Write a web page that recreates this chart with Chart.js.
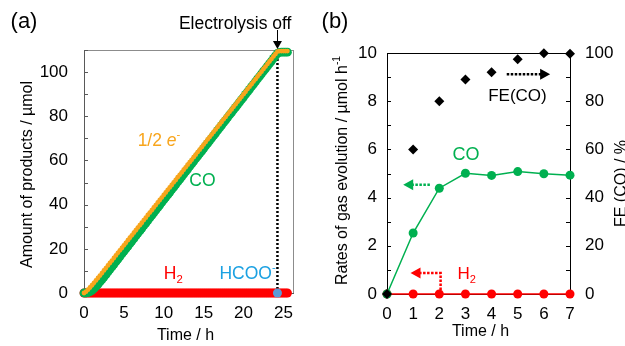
<!DOCTYPE html>
<html>
<head>
<meta charset="utf-8">
<script src="https://cdn.jsdelivr.net/npm/chart.js@4.4.1/dist/chart.umd.min.js"></script>
<style>
  html, body { margin: 0; padding: 0; background: #fff; }
  #wrap { position: relative; width: 625px; height: 346px; }
  canvas { position: absolute; top: 0; }
  #chartA { left: 0; }
  #chartB { left: 310px; }
</style>
</head>
<body>
<div id="wrap">
  <canvas id="chartA" width="310" height="346"></canvas>
  <canvas id="chartB" width="315" height="346"></canvas>
</div>
<script>
// ---- panel (a): amount of products, read every 15 min ----
const timeA = [
  0, 0.25, 0.5, 0.75, 1, 1.25, 1.5, 1.75,
  2, 2.25, 2.5, 2.75, 3, 3.25, 3.5, 3.75,
  4, 4.25, 4.5, 4.75, 5, 5.25, 5.5, 5.75,
  6, 6.25, 6.5, 6.75, 7, 7.25, 7.5, 7.75,
  8, 8.25, 8.5, 8.75, 9, 9.25, 9.5, 9.75,
  10, 10.25, 10.5, 10.75, 11, 11.25, 11.5, 11.75,
  12, 12.25, 12.5, 12.75, 13, 13.25, 13.5, 13.75,
  14, 14.25, 14.5, 14.75, 15, 15.25, 15.5, 15.75,
  16, 16.25, 16.5, 16.75, 17, 17.25, 17.5, 17.75,
  18, 18.25, 18.5, 18.75, 19, 19.25, 19.5, 19.75,
  20, 20.25, 20.5, 20.75, 21, 21.25, 21.5, 21.75,
  22, 22.25, 22.5, 22.75, 23, 23.25, 23.5, 23.75,
  24, 24.25, 24.5, 24.75, 25, 25.25, 25.5
];
// 1/2 e-
const halfE = [
  0, 0.6, 1.5, 2.5, 3.5, 4.6, 5.7, 6.8,
  7.9, 9.0, 10.2, 11.3, 12.5, 13.6, 14.7, 15.9,
  17.0, 18.2, 19.3, 20.4, 21.6, 22.7, 23.9, 25.0,
  26.1, 27.3, 28.4, 29.6, 30.7, 31.8, 33.0, 34.1,
  35.3, 36.4, 37.5, 38.7, 39.8, 41.0, 42.1, 43.2,
  44.4, 45.5, 46.7, 47.8, 48.9, 50.1, 51.2, 52.4,
  53.5, 54.6, 55.8, 56.9, 58.1, 59.2, 60.3, 61.5,
  62.6, 63.8, 64.9, 66.0, 67.2, 68.3, 69.5, 70.6,
  71.7, 72.9, 74.0, 75.2, 76.3, 77.4, 78.6, 79.7,
  80.9, 82.0, 83.1, 84.3, 85.4, 86.6, 87.7, 88.8,
  90.0, 91.1, 92.3, 93.4, 94.5, 95.7, 96.8, 98.0,
  99.1, 100.2, 101.4, 102.5, 103.7, 104.8, 105.9, 107.1,
  108.2, 109.3, 109.5, 109.5, 109.5, 109.5, 109.5
];
const coA = [
  0, 0, 0.2, 0.6, 1.2, 2.0, 2.9, 3.9,
  5.0, 6.1, 7.2, 8.3, 9.5, 10.7, 11.8, 13.0,
  14.2, 15.3, 16.5, 17.7, 18.8, 20.0, 21.1, 22.3,
  23.5, 24.6, 25.8, 27.0, 28.1, 29.3, 30.5, 31.6,
  32.8, 34.0, 35.1, 36.3, 37.5, 38.6, 39.8, 41.0,
  42.1, 43.3, 44.4, 45.6, 46.8, 47.9, 49.1, 50.3,
  51.4, 52.6, 53.8, 54.9, 56.1, 57.3, 58.4, 59.6,
  60.8, 61.9, 63.1, 64.2, 65.4, 66.6, 67.7, 68.9,
  70.1, 71.2, 72.4, 73.6, 74.7, 75.9, 77.1, 78.2,
  79.4, 80.6, 81.7, 82.9, 84.0, 85.2, 86.4, 87.5,
  88.7, 89.9, 91.0, 92.2, 93.4, 94.5, 95.7, 96.9,
  98.0, 99.2, 100.4, 101.5, 102.7, 103.8, 105.0, 106.2,
  107.3, 108.5, 108.9, 109.0, 109.0, 109.0, 109.0
];
const h2A = [
  0, 0, 0, 0, 0, 0, 0, 0,  0, 0, 0, 0, 0, 0, 0, 0,
  0, 0, 0, 0, 0, 0, 0, 0,  0, 0, 0, 0, 0, 0, 0, 0,
  0, 0, 0, 0, 0, 0, 0, 0,  0, 0, 0, 0, 0, 0, 0, 0,
  0, 0, 0, 0, 0, 0, 0, 0,  0, 0, 0, 0, 0, 0, 0, 0,
  0, 0, 0, 0, 0, 0, 0, 0,  0, 0, 0, 0, 0, 0, 0, 0,
  0, 0, 0, 0, 0, 0, 0, 0,  0, 0, 0, 0, 0, 0, 0, 0,
  0, 0, 0, 0, 0, 0, 0
];
const hcooT = [24.25];
const hcooA = [0];
const offTime = 24.25;     // electrolysis off
const offLineTop = 108;
const xTicksA = [0, 5, 10, 15, 20, 25];
const yTicksA = [0, 10, 20, 30, 40, 50, 60, 70, 80, 90, 100, 110];

// ---- panel (b): rates and faradaic efficiency ----
const timeB = [0, 1, 2, 3, 4, 5, 6, 7];
const coRate = [0, 2.53, 4.39, 5.01, 4.92, 5.08, 4.99, 4.93];
const h2Rate = [0, 0, 0, 0, 0, 0, 0, 0];
const feCO = [0, 60, 80, 89, 92, 97.4, 99.9, 99.7];

const FONT = "'Liberation Sans', Arial, sans-serif";
const GREEN = '#00B050', ORANGE = '#F8A51C', RED = '#FF0000';
Chart.defaults.font.family = FONT;
Chart.defaults.color = '#000';

const pts = (xs, ys) => xs.map((x, i) => ({ x: x, y: ys[i] }));

// text with sub/superscripts, centred on (x, y)
function richText(ctx, x, y, segs, opt) {
  opt = opt || {};
  const size = opt.size || 17;
  ctx.save();
  ctx.translate(x, y);
  if (opt.rotate) ctx.rotate(opt.rotate);
  ctx.textBaseline = 'middle';
  ctx.textAlign = 'left';
  const parts = segs.map(s => {
    const fs = (s.sub || s.sup) ? size * 0.65 : size;
    const font = (s.italic ? 'italic ' : '') + fs + 'px ' + FONT;
    ctx.font = font;
    return { s: s, font: font, w: ctx.measureText(s.t).width,
             dy: s.sub ? size * 0.3 : (s.sup ? -size * 0.35 : 0) };
  });
  const total = parts.reduce((a, p) => a + p.w, 0);
  let cx = opt.align === 'left' ? 0 : (opt.align === 'right' ? -total : -total / 2);
  parts.forEach(p => {
    ctx.font = p.font;
    ctx.fillStyle = p.s.color || opt.color || '#000';
    ctx.fillText(p.s.t, cx, p.dy);
    cx += p.w;
  });
  ctx.restore();
}

function innerTicks(chart, id, len, color) {
  const s = chart.scales[id], a = chart.chartArea, ctx = chart.ctx;
  ctx.save();
  ctx.strokeStyle = color;
  ctx.lineWidth = 1;
  ctx.beginPath();
  s.ticks.forEach(t => {
    const p = Math.round(s.getPixelForValue(t.value)) + 0.5;
    if (s.axis === 'x') { ctx.moveTo(p, a.bottom); ctx.lineTo(p, a.bottom - len); }
    else if (s.position === 'left') { ctx.moveTo(a.left, p); ctx.lineTo(a.left + len, p); }
    else { ctx.moveTo(a.right, p); ctx.lineTo(a.right - len, p); }
  });
  ctx.stroke();
  ctx.restore();
}

function dotted(ctx, path, color, width, dash) {
  ctx.save();
  ctx.strokeStyle = color;
  ctx.lineWidth = width;
  ctx.setLineDash(dash);
  ctx.beginPath();
  path.forEach((p, i) => i ? ctx.lineTo(p[0], p[1]) : ctx.moveTo(p[0], p[1]));
  ctx.stroke();
  ctx.restore();
}

// filled triangle, tip at (x, y), pointing along dir ('left','right','down')
function head(ctx, x, y, dir, color, len, half) {
  ctx.save();
  ctx.fillStyle = color;
  ctx.beginPath();
  ctx.moveTo(x, y);
  if (dir === 'left') { ctx.lineTo(x + len, y - half); ctx.lineTo(x + len, y + half); }
  if (dir === 'right') { ctx.lineTo(x - len, y - half); ctx.lineTo(x - len, y + half); }
  if (dir === 'down') { ctx.lineTo(x - half, y - len); ctx.lineTo(x + half, y - len); }
  ctx.closePath();
  ctx.fill();
  ctx.restore();
}

function hLine(ctx, x1, x2, y, color) {
  ctx.save(); ctx.strokeStyle = color; ctx.lineWidth = 1;
  ctx.beginPath(); ctx.moveTo(x1, Math.round(y) + 0.5); ctx.lineTo(x2, Math.round(y) + 0.5); ctx.stroke();
  ctx.restore();
}
function vLine(ctx, x, y1, y2, color) {
  ctx.save(); ctx.strokeStyle = color; ctx.lineWidth = 1;
  ctx.beginPath(); ctx.moveTo(Math.round(x) + 0.5, y1); ctx.lineTo(Math.round(x) + 0.5, y2); ctx.stroke();
  ctx.restore();
}

// ---------------- chart (a) ----------------
const decorA = {
  id: 'decorA',
  beforeDatasetsDraw(chart) {
    const ctx = chart.ctx, a = chart.chartArea, x = chart.scales.x, y = chart.scales.y;
    hLine(ctx, a.left, a.right, a.top, '#8c8c8c');
    vLine(ctx, a.right, a.top, a.bottom, '#8c8c8c');
    innerTicks(chart, 'y', 4, '#595959');
    innerTicks(chart, 'x', 4, '#595959');
    const px = x.getPixelForValue(offTime);
    dotted(ctx, [[px, y.getPixelForValue(0)], [px, y.getPixelForValue(offLineTop)]], '#000', 2.5, [2, 2]);
  },
  afterDraw(chart) {
    const ctx = chart.ctx, a = chart.chartArea, x = chart.scales.x, y = chart.scales.y;
    const X = v => x.getPixelForValue(v), Y = v => y.getPixelForValue(v);
    const cy = (a.top + a.bottom) / 2;
    richText(ctx, 24, 22, [{ t: '(a)' }], { size: 22 });
    richText(ctx, a.left - 56, cy + 3, [{ t: 'Amount of products / µmol' }], { size: 16, rotate: -Math.PI / 2 });
    richText(ctx, (a.left + a.right) / 2 - 3, a.bottom + 43, [{ t: 'Time / h' }], { size: 16 });

    // electrolysis off marker
    const px = X(offTime);
    richText(ctx, px + 14, 24, [{ t: 'Electrolysis off' }], { size: 17.5, align: 'right' });
    vLine(ctx, px - 0.5, 30, a.top - 6, '#000');
    head(ctx, px, a.top - 1, 'down', '#000', 8, 4.5);

    richText(ctx, X(9.4), Y(68.6), [{ t: '1/2 ' }, { t: 'e', italic: true }, { t: '-', sup: true }], { color: ORANGE, size: 17.5 });
    richText(ctx, X(14.85), Y(50.8), [{ t: 'CO' }], { color: GREEN, size: 17.5 });
    richText(ctx, X(11.2), Y(8.5), [{ t: 'H' }, { t: '2', sub: true }], { color: RED, size: 17.5 });
    richText(ctx, X(20.5), Y(8.7), [{ t: 'HCOO' }, { t: '-', sup: true }], { color: '#1BA1E2', size: 17.5 });
  }
};

new Chart(document.getElementById('chartA'), {
  type: 'scatter',
  data: {
    datasets: [
      { label: 'HCOO-', data: pts(hcooT, hcooA), pointRadius: 4.5, backgroundColor: '#5B9BD5', borderWidth: 0, clip: false },
      { label: '1/2 e-', data: pts(timeA, halfE), pointRadius: 2.4, backgroundColor: ORANGE, borderWidth: 0, clip: false },
      { label: 'CO', data: pts(timeA, coA), pointRadius: 4.4, backgroundColor: GREEN, borderWidth: 0, clip: false },
      { label: 'H2', data: pts(timeA, h2A), pointRadius: 4.5, backgroundColor: RED, borderWidth: 0, clip: false }
    ]
  },
  options: {
    responsive: false,
    animation: false,
    layout: { padding: { top: 50, right: 17, left: 0, bottom: 0 } },
    plugins: { legend: { display: false }, tooltip: { enabled: false } },
    scales: {
      x: {
        type: 'linear', min: 0, max: 26.2,
        grid: { display: false, drawTicks: false },
        border: { display: true, color: '#595959' },
        ticks: { autoSkip: false, padding: 10, font: { size: 17 } },
        afterBuildTicks: s => { s.ticks = xTicksA.map(v => ({ value: v })); },
        afterFit: s => { s.height = 53; }
      },
      y: {
        min: 0, max: 110,
        grid: { display: false, drawTicks: false },
        border: { display: true, color: '#595959' },
        ticks: { autoSkip: false, padding: 16, font: { size: 17 }, callback: v => v % 20 === 0 ? v : '' },
        afterBuildTicks: s => { s.ticks = yTicksA.map(v => ({ value: v })); },
        afterFit: s => { s.width = 84; }
      }
    }
  },
  plugins: [decorA]
});

// ---------------- chart (b) ----------------
const decorB = {
  id: 'decorB',
  beforeDatasetsDraw(chart) {
    const ctx = chart.ctx, a = chart.chartArea;
    hLine(ctx, a.left, a.right, a.top, '#000');
    innerTicks(chart, 'y', 4, '#000');
    innerTicks(chart, 'y1', 4, '#000');
    innerTicks(chart, 'x', 4, '#000');
  },
  afterDraw(chart) {
    const ctx = chart.ctx, a = chart.chartArea, x = chart.scales.x, y = chart.scales.y;
    const X = v => x.getPixelForValue(v), Y = v => y.getPixelForValue(v);
    const cy = (a.top + a.bottom) / 2;
    richText(ctx, 25, 22, [{ t: '(b)' }], { size: 22 });
    richText(ctx, a.left - 44, cy - 3, [{ t: 'Rates of gas evolution / µmol h' }, { t: '-1', sup: true }], { size: 16, rotate: -Math.PI / 2 });
    richText(ctx, a.right + 52, cy + 10, [{ t: 'FE (CO) / %' }], { size: 16, rotate: -Math.PI / 2 });
    richText(ctx, (a.left + a.right) / 2 + 2, a.bottom + 38, [{ t: 'Time / h' }], { size: 16 });

    richText(ctx, X(3.02), Y(5.77), [{ t: 'CO' }], { color: GREEN, size: 18 });
    richText(ctx, X(3.05), Y(0.8), [{ t: 'H' }, { t: '2', sub: true }], { color: RED, size: 17 });
    richText(ctx, X(4.99), Y(8.2), [{ t: 'FE(CO)' }], { size: 17 });

    // arrows pointing to the axes
    dotted(ctx, [[X(1.64), Y(4.53)], [X(0.62) + 9, Y(4.53)]], GREEN, 2.5, [2.5, 1.5]);
    head(ctx, X(0.62), Y(4.53), 'left', GREEN, 10, 5.5);
    dotted(ctx, [[X(2.05), Y(0)], [X(2.05), Y(0.87)], [X(0.9) + 9, Y(0.87)]], RED, 2.5, [2.5, 1.5]);
    head(ctx, X(0.9), Y(0.87), 'left', RED, 10, 5.5);
    dotted(ctx, [[X(4.58), Y(9.12)], [X(6.24) - 9, Y(9.12)]], '#000', 2.5, [2.5, 1.5]);
    head(ctx, X(6.24), Y(9.12), 'right', '#000', 10, 5.5);
  }
};

new Chart(document.getElementById('chartB'), {
  type: 'scatter',
  data: {
    datasets: [
      { label: 'FE(CO)', data: pts(timeB, feCO), yAxisID: 'y1', pointStyle: 'rectRot', pointRadius: 5,
        backgroundColor: '#000', borderWidth: 0, showLine: false, clip: false },
      { label: 'CO', data: pts(timeB, coRate), yAxisID: 'y', pointRadius: 4.5, backgroundColor: GREEN,
        borderColor: GREEN, borderWidth: 1.5, pointBorderWidth: 0, showLine: true, clip: false },
      { label: 'H2', data: pts(timeB, h2Rate), yAxisID: 'y', pointRadius: 4.5, backgroundColor: RED,
        borderColor: RED, borderWidth: 1.5, pointBorderWidth: 0, showLine: true, clip: false }
    ]
  },
  options: {
    responsive: false,
    animation: false,
    layout: { padding: { top: 53, right: 0, left: 0, bottom: 0 } },
    plugins: { legend: { display: false }, tooltip: { enabled: false } },
    scales: {
      x: {
        type: 'linear', min: 0, max: 7,
        grid: { display: false, drawTicks: false },
        border: { display: true, color: '#000' },
        ticks: { stepSize: 1, padding: 10, font: { size: 17 } },
        afterFit: s => { s.height = 52; }
      },
      y: {
        position: 'left', min: 0, max: 10,
        grid: { display: false, drawTicks: false },
        border: { display: true, color: '#000' },
        ticks: { stepSize: 1, padding: 10, font: { size: 17 }, callback: v => v % 2 === 0 ? v : '' },
        afterFit: s => { s.width = 77; }
      },
      y1: {
        position: 'right', min: 0, max: 100,
        grid: { display: false, drawTicks: false },
        border: { display: true, color: '#000' },
        ticks: { stepSize: 10, padding: 15, font: { size: 17 }, callback: v => v % 20 === 0 ? v : '' },
        afterFit: s => { s.width = 55; }
      }
    }
  },
  plugins: [decorB]
});
</script>
</body>
</html>
